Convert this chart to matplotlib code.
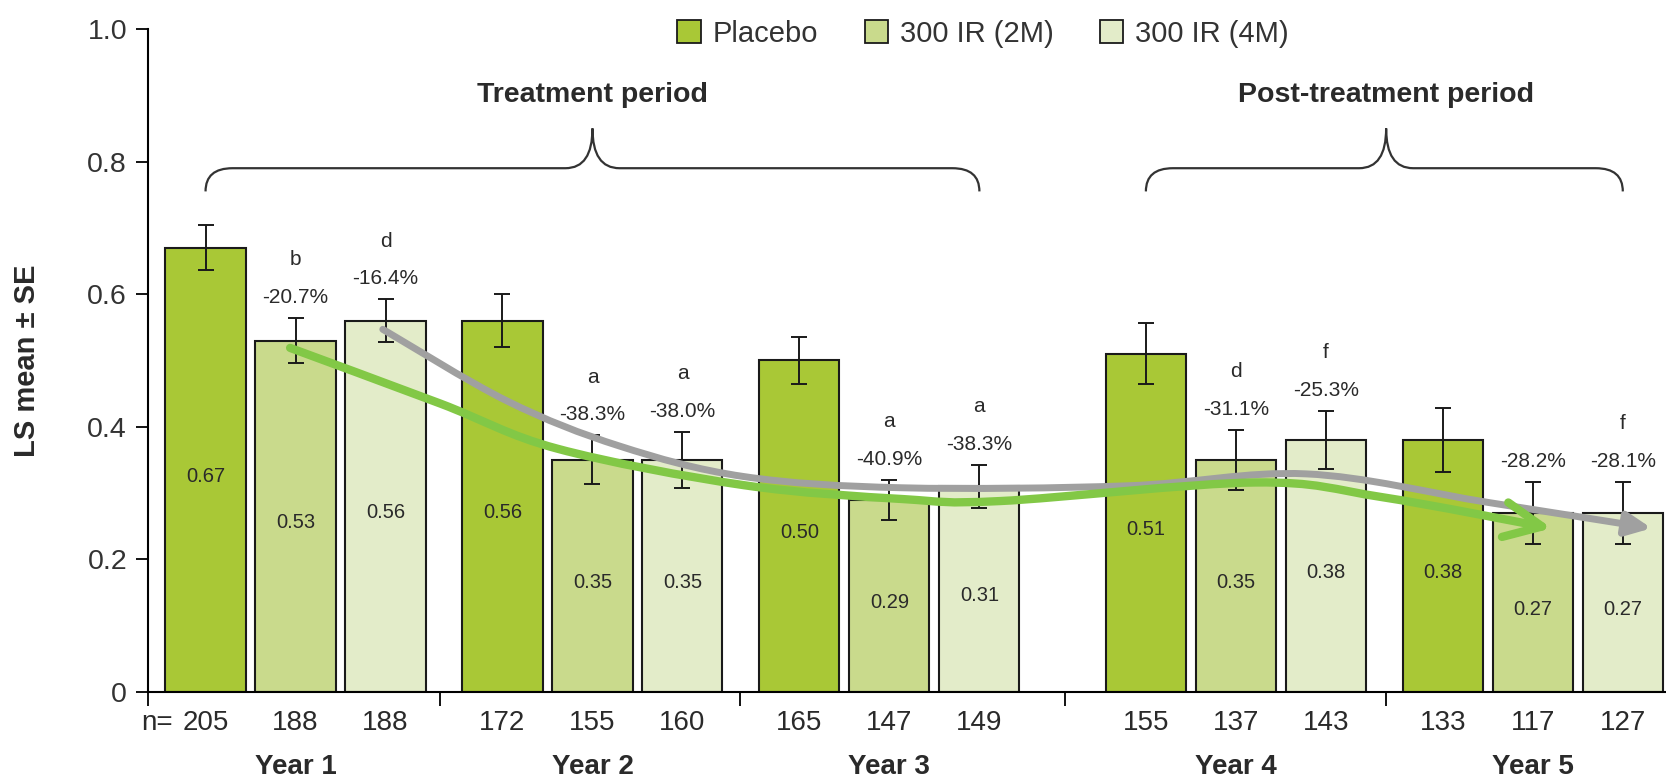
import numpy as np
import matplotlib
matplotlib.use("Agg")
import matplotlib.pyplot as plt
from matplotlib.path import Path
from matplotlib.patches import Patch, FancyArrowPatch, PathPatch

plt.rcParams['font.family'] = ['Liberation Sans', 'DejaVu Sans']

# data
years = ['Year 1', 'Year 2', 'Year 3', 'Year 4', 'Year 5']
series = ['Placebo', '300 IR (2M)', '300 IR (4M)']
placebo = [0.67, 0.56, 0.50, 0.51, 0.38]
ir_2m = [0.53, 0.35, 0.29, 0.35, 0.27]
ir_4m = [0.56, 0.35, 0.31, 0.38, 0.27]
se_placebo = [0.034, 0.040, 0.035, 0.046, 0.048]
se_2m = [0.034, 0.037, 0.030, 0.045, 0.047]
se_4m = [0.032, 0.042, 0.033, 0.044, 0.047]
n_placebo = [205, 172, 165, 155, 133]
n_2m = [188, 155, 147, 137, 117]
n_4m = [188, 160, 149, 143, 127]
pct_2m = ['-20.7%', '-38.3%', '-40.9%', '-31.1%', '-28.2%']
pct_4m = ['-16.4%', '-38.0%', '-38.3%', '-25.3%', '-28.1%']
sig_2m = ['b', 'a', 'a', 'd', '']
sig_4m = ['d', 'a', 'a', 'f', 'f']

# trend arrows (x in bar-slot units, y = LS mean)
green_x = [-0.06, 1.61, 2.91, 4.98, 6.75, 7.83, 10.66, 12.07, 13.96]
green_y = [0.519, 0.435, 0.367, 0.312, 0.291, 0.288, 0.316, 0.294, 0.247]
gray_x = [0.97, 2.35, 3.6, 4.98, 6.75, 9.24, 11.23, 13.25, 15.07]
gray_y = [0.547, 0.439, 0.371, 0.325, 0.308, 0.311, 0.329, 0.286, 0.247]

colors = ['#a9c836', '#c9da8c', '#e3ecc9']
txt = '#2a2a2a'
group_centers = np.array([0, 3.3, 6.6, 10.45, 13.75])
separators = [-1.64, 1.61, 4.94, 8.55, 12.12]
bw = 0.89

fig = plt.figure(figsize=(16.66, 7.83), dpi=100)
ax = fig.add_axes([0.0888, 0.1162, 0.9112, 0.8468])

vals = [placebo, ir_2m, ir_4m]
ses = [se_placebo, se_2m, se_4m]
ns = [n_placebo, n_2m, n_4m]
for k in range(3):
    xs = group_centers + (k - 1)
    ax.bar(xs, vals[k], width=bw, color=colors[k], edgecolor='#1a1a1a', linewidth=1.5, zorder=2)
    ax.errorbar(xs, vals[k], yerr=ses[k], fmt='none', ecolor='#1a1a1a', elinewidth=1.4,
                capsize=5.5, capthick=1.4, zorder=3)
    for x, v, n in zip(xs, vals[k], ns[k]):
        ax.text(x, v / 2 - 0.01, f'{v:.2f}', ha='center', va='center', fontsize=14.5, color=txt, zorder=4)
        ax.text(x, -0.047, str(n), ha='center', va='center', fontsize=20, color=txt, clip_on=False)

for k, pcts, sigs in [(1, pct_2m, sig_2m), (2, pct_4m, sig_4m)]:
    xs = group_centers + (k - 1)
    for x, v, s, p, g in zip(xs, vals[k], ses[k], pcts, sigs):
        top = v + s
        ax.text(x, top + 0.031, p, ha='center', va='center', fontsize=15, color=txt, zorder=4)
        if g:
            ax.text(x, top + 0.088, g, ha='center', va='center', fontsize=15, color=txt, zorder=4)

ax.text(group_centers[0] - 1 - 0.36, -0.047, 'n=', ha='right', va='center', fontsize=20, color=txt, clip_on=False)
for c, yl in zip(group_centers, years):
    ax.text(c, -0.113, yl, ha='center', va='center', fontsize=20, fontweight='bold', color=txt, clip_on=False)


def smooth_path(xs, ys):
    pts = np.column_stack([xs, ys])
    p = np.vstack([pts[0], pts, pts[-1]])
    verts = [tuple(pts[0])]
    codes = [Path.MOVETO]
    for i in range(1, len(p) - 2):
        c1 = p[i] + (p[i + 1] - p[i - 1]) / 6
        c2 = p[i + 1] - (p[i + 2] - p[i]) / 6
        verts += [tuple(c1), tuple(c2), tuple(p[i + 1])]
        codes += [Path.CURVE4] * 3
    return Path(verts, codes)


ax.add_patch(FancyArrowPatch(path=smooth_path(gray_x, gray_y), arrowstyle='-|>,head_length=0.75,head_width=0.35',
                             mutation_scale=20, color='#a0a0a0', lw=5, zorder=5))
ax.add_patch(FancyArrowPatch(path=smooth_path(green_x, green_y), arrowstyle='->,head_length=0.9,head_width=0.42',
                             mutation_scale=30, color='#82c846', lw=6, zorder=6))


def brace(x0, x1, xm, label):
    yb, ye, yp, r = 0.79, 0.755, 0.85, 0.3
    verts = [(x0, ye), (x0, yb), (x0 + r, yb), (xm - r, yb), (xm, yb), (xm, yp),
             (xm, yb), (xm + r, yb), (x1 - r, yb), (x1, yb), (x1, ye)]
    codes = [Path.MOVETO, Path.CURVE3, Path.CURVE3, Path.LINETO, Path.CURVE3, Path.CURVE3,
             Path.CURVE3, Path.CURVE3, Path.LINETO, Path.CURVE3, Path.CURVE3]
    ax.add_patch(PathPatch(Path(verts, codes), fill=False, edgecolor='#333333', lw=1.6))
    ax.text(xm, 0.90, label, ha='center', va='center', fontsize=20.5, fontweight='bold', color=txt)


brace(group_centers[0] - 1, group_centers[2] + 1, group_centers[1], 'Treatment period')
brace(group_centers[3] - 1, group_centers[4] + 1, separators[4], 'Post-treatment period')

ax.set_xlim(-1.64, 15.23)
ax.set_ylim(0, 1.0)
ax.set_yticks([0, 0.2, 0.4, 0.6, 0.8, 1.0])
ax.set_yticklabels(['0', '0.2', '0.4', '0.6', '0.8', '1.0'])
ax.set_xticks(separators)
ax.set_xticklabels([])
ax.tick_params(axis='y', direction='out', length=9, width=1.3, labelsize=20.5, pad=6, labelcolor='#333333')
ax.tick_params(axis='x', direction='out', length=10, width=1.3)
for s in ['top', 'right']:
    ax.spines[s].set_visible(False)
for s in ['left', 'bottom']:
    ax.spines[s].set_linewidth(1.5)
ax.spines['left'].set_bounds(0, 1.0)
ax.set_ylabel('LS mean ± SE', fontsize=21, fontweight='bold', color=txt)
ax.yaxis.set_label_coords(-0.0705, 0.5)

handles = [Patch(facecolor=c, edgecolor='#1a1a1a', linewidth=1.3, label=l) for c, l in zip(colors, series)]
fig.legend(handles=handles, loc='center', bbox_to_anchor=(0.59, 0.957), ncol=3, frameon=False,
           fontsize=21, handlelength=0.8, handleheight=0.8, handletextpad=0.4, columnspacing=1.6,
           labelcolor='#333333')

fig.savefig('out.png', dpi=100)
